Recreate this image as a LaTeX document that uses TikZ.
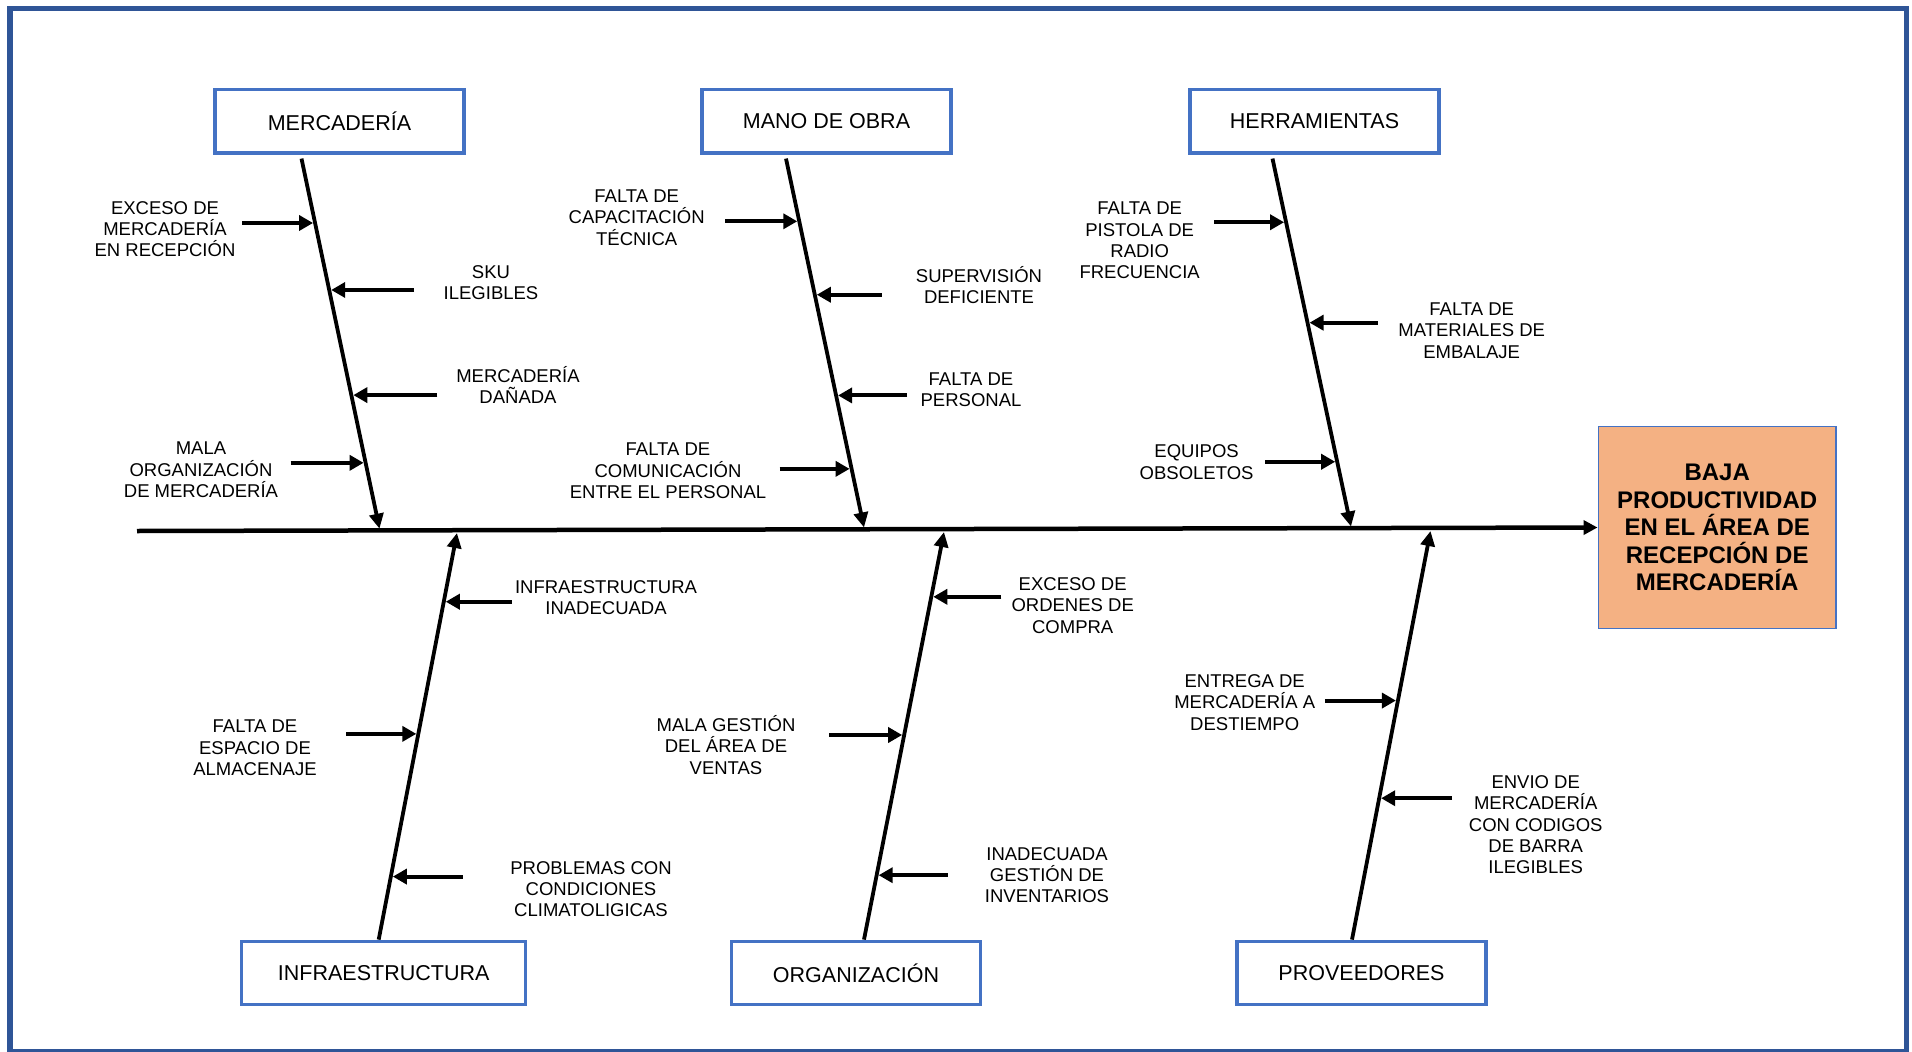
\documentclass[tikz,border=0pt]{standalone}
\usepackage{fontspec}
\setmainfont{Liberation Sans}
\usetikzlibrary{arrows.meta,calc}
\definecolor{azulcaja}{RGB}{68,114,196}
\definecolor{azulmarco}{RGB}{47,85,151}
\definecolor{salmon}{RGB}{244,177,131}
\tikzset{%
  causa/.style={
    draw=azulcaja,
    line width=3.3pt,
    minimum width=249pt,
    minimum height=63.5pt,
    font=\fontsize{21.5}{26}\selectfont
  },
  causa infra/.style={
    minimum width=284pt
  },
  problema/.style={
    draw=azulcaja,
    fill=salmon,
    line width=1.8pt,
    minimum width=237.5pt,
    minimum height=202pt,
    align=center,
    font=\fontsize{24}{27.4}\selectfont\bfseries
  },
  subcausa/.style={
    align=center,
    inner sep=0pt,
    font=\fontsize{18.5}{21.3}\selectfont
  },
  espina/.style={-{Triangle[length=14pt,width=14pt]}, line width=4.5pt},
  hueso/.style={-{Triangle[length=15pt,width=14pt]}, line width=3.8pt},
  flecha/.style={-{Triangle[length=14pt,width=15pt]}, line width=4pt, shorten >=2pt}
 }
\begin{document}
\begin{tikzpicture}[x=1pt, y=-1pt]

\useasboundingbox (0,0) rectangle (1912,1052);
\draw[azulmarco, line width=5.3pt] (10,8.3) rectangle (1906.3,1052);

\foreach \n/\px/\t in {merc/339.5/MERCADERÍA, mano/826.5/MANO DE OBRA, herr/1314.5/HERRAMIENTAS}
  \node [causa, causa \n/.try] (\n) at (\px,121.2) {\t};

\foreach \n/\px/\t in {infra/383.7/INFRAESTRUCTURA, org/856/ORGANIZACIÓN, prov/1361.5/PROVEEDORES}
  \node [causa, causa \n/.try] (\n) at (\px,973) {\t};

\node [problema] (efecto) at (1717.2,527.5)
  {BAJA\\PRODUCTIVIDAD\\EN EL ÁREA DE\\RECEPCIÓN DE\\MERCADERÍA};

\coordinate (cola) at (137,531);
\draw [espina] (cola) -- (efecto.west);

\foreach \n/\dx/\ex/\ey in {merc/-38/379.5/528.7, mano/-40.5/864/527.5, herr/-42/1351/526.5}{
  \coordinate (\n-a) at ([xshift=\dx pt, yshift=-4pt]\n.south);
  \coordinate (\n-b) at (\ex,\ey);
}
\foreach \n/\dx/\ex/\ey in {infra/-5/457/533, org/8/944/532, prov/-9.5/1430.5/531}{
  \coordinate (\n-a) at ([xshift=\dx pt]\n.north);
  \coordinate (\n-b) at (\ex,\ey);
}
\foreach \n in {merc,mano,herr,infra,org,prov}
  \draw [hueso] (\n-a) -- (\n-b);

\foreach \n/\f/\l/\px/\py/\t [count=\i] in {
  merc/0.174/-73/165/229.2/{EXCESO DE\\MERCADERÍA\\EN RECEPCIÓN},
  merc/0.355/85/491/282.8/{SKU\\ILEGIBLES},
  merc/0.639/86/518/384.9/{MERCADERÍA\\DAÑADA},
  merc/0.822/-75/201/470/{MALA\\ORGANIZACIÓN\\DE MERCADERÍA},
  mano/0.170/-74/636.7/217.7/{FALTA DE\\CAPACITACIÓN\\TÉCNICA},
  mano/0.369/67/979/285/{SUPERVISIÓN\\DEFICIENTE},
  mano/0.642/71/971/390/{FALTA DE\\PERSONAL},
  mano/0.841/-72/668/471/{FALTA DE\\COMUNICACIÓN\\ENTRE EL PERSONAL},
  herr/0.173/-72/1139.7/240.5/{FALTA DE\\PISTOLA DE\\RADIO\\FRECUENCIA},
  herr/0.446/70/1471.7/330.6/{FALTA DE\\MATERIALES DE\\EMBALAJE},
  herr/0.824/-72/1196.6/462/{EQUIPOS\\OBSOLETOS},
  infra/0.831/68/606/597.8/{INFRAESTRUCTURA\\INADECUADA},
  infra/0.506/-72/255/747.8/{FALTA DE\\ESPACIO DE\\ALMACENAJE},
  infra/0.155/72/591/889/{PROBLEMAS CON\\CONDICIONES\\CLIMATOLIGICAS},
  org/0.841/70/1072.7/605.4/{EXCESO DE\\ORDENES DE\\COMPRA},
  org/0.502/-75/726/745/{MALA GESTIÓN\\DEL ÁREA DE\\VENTAS},
  org/0.158/71/1047/875.3/{INADECUADA\\GESTIÓN DE\\INVENTARIOS},
  prov/0.585/-73/1244.7/702.6/{ENTREGA DE\\MERCADERÍA A\\DESTIEMPO},
  prov/0.346/73/1535.7/824.7/{ENVIO DE\\MERCADERÍA\\CON CODIGOS\\DE BARRA\\ILEGIBLES}}{
  \coordinate (p\i) at ($(\n-a)!\f!(\n-b)$);
  \node [subcausa] (c\i) at (\px,\py) {\t};
  \draw [flecha] ([xshift=\l pt]p\i) -- (p\i);
}

\end{tikzpicture}
\end{document}
